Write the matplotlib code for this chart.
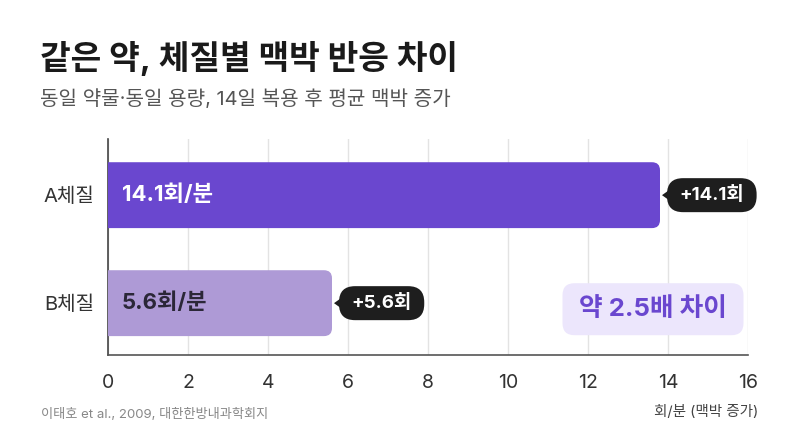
import matplotlib
matplotlib.use("Agg")
import matplotlib.pyplot as plt
from matplotlib.patches import FancyBboxPatch, Polygon
from matplotlib.transforms import IdentityTransform

plt.rcParams['font.family'] = ['Inter', 'Noto Sans CJK KR', 'DejaVu Sans']

categories = ["A체질", "B체질"]
values = [14.1, 5.6]            # label values
bar_lengths = [13.8, 5.6]       # bar lengths as drawn in the picture
bar_labels = ["14.1회/분", "5.6회/분"]
pill_labels = ["+14.1회", "+5.6회"]
bar_colors = ["#6A47CF", "#AE9AD6"]
inner_text_colors = ["#FFFFFF", "#2B2738"]
xticks = [0, 2, 4, 6, 8, 10, 12, 14, 16]

W, H = 800, 447
fig = plt.figure(figsize=(W / 100, H / 100), dpi=100)
fig.patch.set_facecolor("white")
ax = fig.add_axes([108 / W, 1 - 355 / H, 640 / W, 216 / H])

ypos = [1, 0]
ax.set_xlim(0, 16)
ax.set_ylim(-0.48, 1.52)

xu = 16 / 640
yu = 2.0 / 216
rad_px = 8
for y, L, c in zip(ypos, bar_lengths, bar_colors):
    h = 0.61
    p = FancyBboxPatch((-0.5, y - h / 2), L + 0.5, h,
                       boxstyle=f"round,pad=0,rounding_size={rad_px * xu}",
                       mutation_aspect=yu / xu,
                       facecolor=c, edgecolor="none", zorder=3, clip_on=True)
    ax.add_patch(p)

for y, lab, tc in zip(ypos, bar_labels, inner_text_colors):
    ax.text(0.35, y, lab, ha="left", va="center", fontsize=16,
            fontweight="bold", color=tc, zorder=4)

ax.set_yticks(ypos)
ax.set_yticklabels(categories, fontsize=14.5, color="#333333")
ax.set_xticks(xticks)
ax.set_xticklabels([str(t) for t in xticks], fontsize=14, color="#333333")
ax.tick_params(axis="both", length=0)
ax.tick_params(axis="y", pad=10)
ax.tick_params(axis="x", pad=14)
ax.grid(axis="x", color="#E3E3E3", linewidth=1, zorder=0)
ax.set_axisbelow(True)
for s in ["top", "right"]:
    ax.spines[s].set_visible(False)
ax.spines["left"].set_color("#444444")
ax.spines["bottom"].set_color("#555555")
ax.spines["left"].set_linewidth(1.2)
ax.spines["bottom"].set_linewidth(1.2)

pill_texts = []
for y, L, lab in zip(ypos, bar_lengths, pill_labels):
    t = ax.annotate(lab, xy=(L, y), xytext=(19 * 0.72, 0), textcoords="offset points",
                    ha="left", va="center", fontsize=13.5, fontweight="bold",
                    color="white", zorder=8, annotation_clip=False)
    pill_texts.append(t)

hl = ax.text(13.625, -0.056, "약 2.5배 차이", ha="center", va="center",
             fontsize=18.5, fontweight="bold", color="#6A47CF", zorder=8)

fig.text(40 / W, 1 - 58 / H, "같은 약, 체질별 맥박 반응 차이", ha="left", va="center",
         fontsize=24, fontweight="bold", color="#1A1A1A")
fig.text(40 / W, 1 - 99 / H, "동일 약물·동일 용량, 14일 복용 후 평균 맥박 증가", ha="left",
         va="center", fontsize=14.5, color="#555555")
fig.text(758 / W, 1 - 412 / H, "회/분 (맥박 증가)", ha="right", va="center",
         fontsize=10.5, color="#444444")
fig.text(41 / W, 1 - 415 / H, "이태호 et al., 2009, 대한한방내과학회지", ha="left",
         va="center", fontsize=9.5, color="#888888")

fig.canvas.draw()
r = fig.canvas.get_renderer()

for t in pill_texts:
    bb = t.get_window_extent(r)
    cy = (bb.y0 + bb.y1) / 2
    x0 = bb.x0 - 12
    x1 = bb.x1 + 13
    hh = 17
    box = FancyBboxPatch((x0, cy - hh), x1 - x0, 2 * hh,
                         boxstyle="round,pad=0,rounding_size=16",
                         facecolor="#1E1E1E", edgecolor="none",
                         transform=IdentityTransform(), zorder=6, clip_on=False)
    ax.add_artist(box)
    tri = Polygon([[x0 - 5, cy], [x0 + 2, cy + 5], [x0 + 2, cy - 5]], closed=True,
                  facecolor="#1E1E1E", edgecolor="none",
                  transform=IdentityTransform(), zorder=6, clip_on=False)
    ax.add_artist(tri)

bb = hl.get_window_extent(r)
cx = (bb.x0 + bb.x1) / 2
cy = (bb.y0 + bb.y1) / 2
bw, bh = 181, 52
box = FancyBboxPatch((cx - bw / 2, cy - bh / 2), bw, bh,
                     boxstyle="round,pad=0,rounding_size=12",
                     facecolor="#ECE6FC", edgecolor="none",
                     transform=IdentityTransform(), zorder=6, clip_on=False)
ax.add_artist(box)

fig.savefig("out.png", dpi=100, facecolor="white")
